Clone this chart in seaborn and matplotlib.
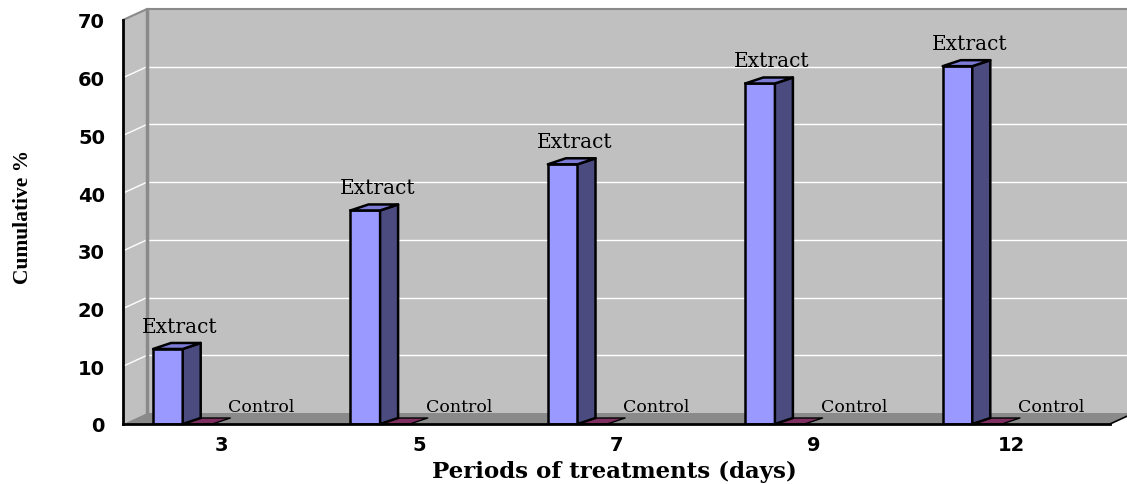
import numpy as np
import pandas as pd
import matplotlib
matplotlib.use("Agg")
import matplotlib.pyplot as plt
from matplotlib.patches import Polygon
import seaborn as sns

# ---- data ----
periods = ["3", "5", "7", "9", "12"]
extract = [13, 37, 45, 59, 62]
control = [0, 0, 0, 0, 0]
groups = ["Extract", "Control"]
y_ticks = [0, 10, 20, 30, 40, 50, 60, 70]

df = pd.DataFrame({
    "period": periods * 2,
    "group": ["Extract"] * len(periods) + ["Control"] * len(periods),
    "value": extract + control,
})

# ---- styling ----
FRONT = {"Extract": "#9999FF", "Control": "#7F2F5F"}
SIDE = {"Extract": "#4B4B80", "Control": "#5A1F44"}
TOP = {"Extract": "#7C7CD6", "Control": "#7F2F5F"}
WALL = "#C0C0C0"
FLOOR = "#8A8A8A"
EDGE = "#8A8A8A"

sns.set_style("white")
plt.rcParams.update({
    "text.color": "black",
    "xtick.color": "black",
    "ytick.color": "black",
    "axes.labelcolor": "black",
})

W, H = 1127, 485
fig = plt.figure(figsize=(W / 100, H / 100), dpi=100)
fig.patch.set_facecolor("white")
ax = fig.add_axes([123 / W, 60 / H, 987 / W, 404 / H])
ax.set_facecolor("none")

sns.barplot(
    data=df, x="period", y="value", hue="group",
    order=periods, hue_order=groups, palette=FRONT, saturation=1,
    width=0.3, edgecolor="black", linewidth=1.8, errorbar=None,
    legend=False, ax=ax, zorder=3,
)

ax.set_xlim(-0.5, len(periods) - 0.5)
ax.set_ylim(0, 70)

# pixel -> data unit conversion for the pseudo-3D depth
p0 = ax.transData.transform((0, 0))
p1 = ax.transData.transform((1, 10))
sx = p1[0] - p0[0]
sy = (p1[1] - p0[1]) / 10.0
wdx, wdy = 24 / sx, 11 / sy      # wall depth
bdx, bdy = 18 / sx, 6 / sy       # bar depth
shift = -39 / sx                 # bars sit towards the front-left of each slot

x_lo, x_hi = -0.5, len(periods) - 0.5

# back wall
ax.add_patch(Polygon([(x_lo + wdx, wdy), (x_hi + wdx, wdy), (x_hi + wdx, 70 + wdy),
                      (x_lo + wdx, 70 + wdy)], closed=True, facecolor=WALL,
                     edgecolor="none", zorder=0, clip_on=False))
# left side wall
ax.add_patch(Polygon([(x_lo, 0), (x_lo, 70), (x_lo + wdx, 70 + wdy), (x_lo + wdx, wdy)],
                     closed=True, facecolor=WALL, edgecolor="none", zorder=0, clip_on=False))
# gridlines on back and side walls
for v in y_ticks[1:-1]:
    ax.plot([x_lo + wdx, x_hi + wdx], [v + wdy, v + wdy], color="white", lw=1.0,
            zorder=0.5, clip_on=False)
    ax.plot([x_lo, x_lo + wdx], [v, v + wdy], color="white", lw=1.0,
            zorder=0.5, clip_on=False)
# wall edges
ax.plot([x_lo + wdx, x_lo + wdx], [wdy, 70 + wdy], color=EDGE, lw=2.5, zorder=0.7, clip_on=False)
ax.plot([x_lo, x_lo + wdx, x_hi + wdx], [70, 70 + wdy, 70 + wdy], color=EDGE, lw=1.5,
        zorder=0.7, clip_on=False)
# floor
ax.add_patch(Polygon([(x_lo, 0), (x_hi, 0), (x_hi + wdx, wdy), (x_lo + wdx, wdy)],
                     closed=True, facecolor=FLOOR, edgecolor="none", zorder=0.6, clip_on=False))
ax.plot([x_hi, x_hi + wdx], [0, wdy], color="black", lw=1.2, zorder=0.8, clip_on=False)

# 3D faces and labels for each bar
for container, group in zip(ax.containers, groups):
    for rect in container:
        rect.set_x(rect.get_x() + shift)
        x0 = rect.get_x()
        x1 = x0 + rect.get_width()
        h = rect.get_height()
        z = 3.2 if group == "Extract" else 2.5
        rect.set_zorder(z)
        if h > 0:
            ax.add_patch(Polygon([(x1, 0), (x1, h), (x1 + bdx, h + bdy), (x1 + bdx, bdy)],
                                 closed=True, facecolor=SIDE[group], edgecolor="black",
                                 lw=1.8, zorder=z, clip_on=False, joinstyle="round"))
        ax.add_patch(Polygon([(x0, h), (x1, h), (x1 + bdx, h + bdy), (x0 + bdx, h + bdy)],
                             closed=True, facecolor=TOP[group], edgecolor="black",
                             lw=1.8 if h > 0 else 1.0, zorder=z, clip_on=False,
                             joinstyle="round"))
        cx = (x0 + x1) / 2
        if group == "Extract":
            ax.annotate(group, xy=(cx, h), xytext=(12, 17), textcoords="offset pixels",
                        ha="center", va="baseline", fontsize=14.5, family="DejaVu Serif",
                        color="black", zorder=5, annotation_clip=False)
        else:
            ax.annotate(group, xy=(cx, h), xytext=(64, 13), textcoords="offset pixels",
                        ha="center", va="baseline", fontsize=12.5, family="DejaVu Serif",
                        color="black", zorder=5, annotation_clip=False)

# axes, ticks, spines
for side in ("top", "right"):
    ax.spines[side].set_visible(False)
for side in ("left", "bottom"):
    ax.spines[side].set_color("black")
    ax.spines[side].set_linewidth(2)
    ax.spines[side].set_zorder(4)

ax.set_yticks(y_ticks)
ax.set_yticklabels([str(v) for v in y_ticks])
ax.set_xticks(range(len(periods)))
ax.set_xticklabels(periods)
ax.set_xticks(np.arange(x_lo, x_hi + 0.01, 1.0), minor=True)
ax.tick_params(axis="y", direction="out", length=9, width=1.5, pad=4, color="black",
               labelcolor="black")
ax.tick_params(axis="x", which="both", direction="in", length=4.5, width=1.5, pad=8,
               color="black", labelcolor="black")
plt.setp(ax.get_yticklabels(), fontsize=14, fontweight="bold", family="DejaVu Sans")
plt.setp(ax.get_xticklabels(), fontsize=14, fontweight="bold", family="DejaVu Sans")
ax.set_xlabel("")
ax.set_ylabel("")

fig.text(614 / W, 1 - 478 / H, "Periods of treatments (days)", ha="center", va="baseline",
         fontsize=16.5, fontweight="bold", family="DejaVu Serif", color="black")
fig.text(23 / W, 1 - 217 / H, "Cumulative %", ha="center", va="center", rotation=90,
         fontsize=15.5, fontweight="bold", family="Liberation Serif", color="black")

fig.savefig("out.png", dpi=100)
